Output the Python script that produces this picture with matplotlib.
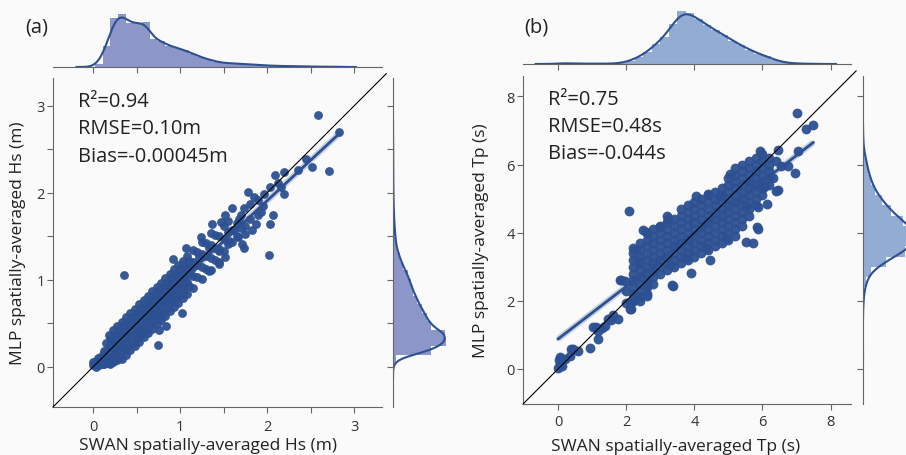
import numpy as np
import matplotlib
matplotlib.use("Agg")
import matplotlib.pyplot as plt

plt.rcParams['font.family'] = ['Open Sans', 'DejaVu Sans']

# ── data ────────────────────────────────────────────────────────────────
# panel (a): spatially-averaged Hs (SWAN, MLP) in m
hs_pairs = [
    (0.00, 0.02), (0.00, 0.06), (0.03, 0.00), (0.04, 0.05), (0.07, 0.02), (0.09, 0.07),
    (0.12, 0.03), (0.06, 0.10), (0.10, 0.13), (0.10, 0.06), (0.13, 0.03), (0.13, 0.18),
    (0.13, 0.10), (0.15, 0.05), (0.15, 0.12), (0.15, 0.27),
    (0.18, 0.05), (0.18, 0.08), (0.18, 0.23), (0.18, 0.37),
    (0.20, 0.03), (0.20, 0.17), (0.20, 0.32),
    (0.23, 0.06), (0.23, 0.13), (0.23, 0.28), (0.23, 0.42),
    (0.25, 0.08), (0.25, 0.22), (0.25, 0.37),
    (0.28, 0.08), (0.28, 0.18), (0.28, 0.33), (0.28, 0.47),
    (0.30, 0.13), (0.30, 0.27), (0.30, 0.42),
    (0.33, 0.09), (0.33, 0.23), (0.33, 0.38), (0.33, 0.52),
    (0.35, 0.18), (0.35, 0.32), (0.35, 0.47),
    (0.38, 0.14), (0.38, 0.28), (0.38, 0.43), (0.38, 0.57),
    (0.40, 0.23), (0.40, 0.37), (0.40, 0.52),
    (0.43, 0.19), (0.43, 0.33), (0.43, 0.48), (0.43, 0.62),
    (0.45, 0.28), (0.45, 0.42), (0.45, 0.57),
    (0.48, 0.24), (0.48, 0.38), (0.48, 0.53), (0.48, 0.67),
    (0.50, 0.33), (0.50, 0.47), (0.50, 0.62),
    (0.53, 0.29), (0.53, 0.43), (0.53, 0.58), (0.53, 0.72),
    (0.55, 0.38), (0.55, 0.52), (0.55, 0.67),
    (0.58, 0.34), (0.58, 0.48), (0.58, 0.63), (0.58, 0.77),
    (0.60, 0.43), (0.60, 0.57), (0.60, 0.72),
    (0.63, 0.39), (0.63, 0.53), (0.63, 0.68), (0.63, 0.82),
    (0.65, 0.48), (0.65, 0.62), (0.65, 0.77),
    (0.68, 0.44), (0.68, 0.58), (0.68, 0.73), (0.68, 0.87),
    (0.70, 0.53), (0.70, 0.67), (0.70, 0.82),
    (0.73, 0.49), (0.73, 0.63), (0.73, 0.78), (0.73, 0.92),
    (0.75, 0.58), (0.75, 0.72), (0.75, 0.87),
    (0.78, 0.54), (0.78, 0.68), (0.78, 0.83), (0.78, 0.97),
    (0.80, 0.63), (0.80, 0.77), (0.80, 0.92),
    (0.83, 0.59), (0.83, 0.73), (0.83, 0.88), (0.83, 1.02),
    (0.85, 0.68), (0.85, 0.82), (0.85, 0.97),
    (0.88, 0.64), (0.88, 0.78), (0.88, 0.93), (0.88, 1.07),
    (0.90, 0.73), (0.90, 0.87), (0.90, 1.02),
    (0.93, 0.69), (0.93, 0.83), (0.93, 0.98), (0.93, 1.12),
    (0.95, 0.78), (0.95, 0.92), (0.95, 1.07),
    (0.98, 0.74), (0.98, 0.88), (0.98, 1.03), (0.98, 1.17),
    (1.00, 0.83), (1.00, 0.97), (1.00, 1.12),
    (1.03, 0.79), (1.03, 0.93), (1.03, 1.08), (1.03, 1.22),
    (1.05, 0.88), (1.05, 1.02), (1.05, 1.17),
    (1.08, 0.84), (1.08, 0.98), (1.08, 1.13), (1.08, 1.27),
    (1.10, 0.93), (1.10, 1.07), (1.10, 1.22),
    (1.15, 0.91), (1.15, 1.05), (1.15, 1.20), (1.15, 1.34),
    (1.20, 1.03), (1.20, 1.17), (1.20, 1.32),
    (1.25, 1.01), (1.25, 1.15), (1.25, 1.30), (1.25, 1.44),
    (1.30, 1.13), (1.30, 1.27), (1.30, 1.42),
    (1.35, 1.11), (1.35, 1.25), (1.35, 1.40), (1.35, 1.54),
    (1.40, 1.23), (1.40, 1.37), (1.40, 1.52),
    (1.45, 1.21), (1.45, 1.35), (1.45, 1.50),
    (1.50, 1.33), (1.50, 1.47), (1.50, 1.62),
    (1.55, 1.41), (1.55, 1.55), (1.55, 1.68),
    (1.60, 1.43), (1.60, 1.57), (1.65, 1.51), (1.65, 1.65),
    (1.70, 1.60), (1.70, 1.74), (1.75, 1.62), (1.80, 1.70),
    # scattered points away from the core
    (0.36, 1.06), (0.75, 0.25), (0.92, 1.24), (1.02, 0.62), (0.76, 0.43), (0.84, 0.47),
    (1.24, 1.49), (1.07, 1.37), (2.59, 2.89), (2.83, 2.70), (2.45, 2.39), (2.52, 2.30),
    (2.71, 2.25), (2.36, 2.26), (2.20, 2.24), (2.09, 2.20), (2.12, 2.11), (2.16, 2.07),
    (2.20, 1.99), (2.03, 2.07), (2.07, 1.75), (2.03, 1.64), (2.02, 1.29), (1.78, 2.01),
    (1.90, 1.92), (1.97, 1.99), (1.60, 1.83), (1.73, 1.83), (1.80, 1.87), (1.52, 1.74),
    (1.37, 1.64), (1.47, 1.66), (1.90, 1.74), (1.87, 1.64), (1.71, 1.41), (1.83, 1.57),
    (1.75, 1.53), (1.62, 1.57), (1.66, 1.49), (1.73, 1.37), (1.56, 1.45), (1.45, 1.33),
    (1.33, 1.37), (1.45, 1.18), (1.52, 1.26), (1.22, 1.26), (1.33, 1.10), (1.14, 1.14),
    (1.95, 1.85), (1.85, 1.95), (1.93, 1.78), (1.68, 1.70),
]
hs_swan = [p[0] for p in hs_pairs]
hs_mlp = [p[1] for p in hs_pairs]
hs_fit = (0.93, 0.05)          # slope, intercept of the regression line
hs_stats = ["R²=0.94", "RMSE=0.10m", "Bias=-0.00045m"]

# marginal histograms of panel (a)
hs_top_edges = [0.02, 0.11, 0.20, 0.29, 0.38, 0.47, 0.56, 0.65, 0.74, 0.83, 0.92,
                1.01, 1.10, 1.19, 1.28, 1.37, 1.46, 1.55, 1.64, 1.73, 1.82, 1.91,
                2.00, 2.09, 2.18, 2.27, 2.36, 2.45, 2.54, 2.63, 2.72, 2.81]
hs_top_counts = [10, 63, 148, 160, 131, 131, 136, 83, 78, 63, 58, 50, 40, 30, 23,
                 16, 12, 11, 10, 8, 7, 5, 4, 3, 3, 2, 2, 1, 1, 1, 1]
hs_right_edges = [0.04, 0.14, 0.235, 0.33, 0.43, 0.53, 0.625, 0.72, 0.82, 0.92,
                  1.015, 1.11, 1.21, 1.31, 1.405, 1.50, 1.60, 1.70, 1.795, 1.89,
                  1.99, 2.08, 2.18, 2.28, 2.37, 2.47, 2.57, 2.66]
hs_right_counts = [8, 113, 158, 155, 112, 100, 85, 72, 60, 52, 43, 30, 20, 12, 8,
                   6, 4, 3, 2, 1.5, 1, 1, 0.8, 0.6, 0.5, 0.5, 0.4]

# panel (b): spatially-averaged Tp (SWAN, MLP) in s
tp_cloud = {
    2.2: [2.0, 2.2, 2.4, 2.6, 2.8, 3.0, 3.2, 3.4],
    2.4: [2.1, 2.3, 2.5, 2.7, 2.9, 3.1, 3.3, 3.5, 3.7],
    2.6: [2.2, 2.4, 2.6, 2.8, 3.0, 3.2, 3.4, 3.6, 3.8, 4.0],
    2.8: [2.5, 2.7, 2.9, 3.1, 3.3, 3.5, 3.7, 3.9, 4.1],
    3.0: [2.8, 3.0, 3.2, 3.4, 3.6, 3.8, 4.0, 4.2],
    3.2: [2.9, 3.1, 3.3, 3.5, 3.7, 3.9, 4.1, 4.3, 4.5],
    3.4: [3.0, 3.2, 3.4, 3.6, 3.8, 4.0, 4.2, 4.4],
    3.6: [3.1, 3.3, 3.5, 3.7, 3.9, 4.1, 4.3, 4.5, 4.7],
    3.8: [3.2, 3.4, 3.6, 3.8, 4.0, 4.2, 4.4, 4.6, 4.8],
    4.0: [3.3, 3.5, 3.7, 3.9, 4.1, 4.3, 4.5, 4.7, 4.9],
    4.2: [3.4, 3.6, 3.8, 4.0, 4.2, 4.4, 4.6, 4.8, 5.0],
    4.4: [3.5, 3.7, 3.9, 4.1, 4.3, 4.5, 4.7, 4.9, 5.1],
    4.6: [3.6, 3.8, 4.0, 4.2, 4.4, 4.6, 4.8, 5.0, 5.2],
    4.8: [3.7, 3.9, 4.1, 4.3, 4.5, 4.7, 4.9, 5.1, 5.3],
    5.0: [3.8, 4.0, 4.2, 4.4, 4.6, 4.8, 5.0, 5.2, 5.4, 5.6],
    5.2: [3.9, 4.1, 4.3, 4.5, 4.7, 4.9, 5.1, 5.3, 5.5, 5.7, 5.9],
    5.4: [4.2, 4.4, 4.6, 4.8, 5.0, 5.2, 5.4, 5.6, 5.8, 6.0],
    5.6: [4.5, 4.7, 4.9, 5.1, 5.3, 5.5, 5.7, 5.9, 6.1],
    5.8: [4.8, 5.0, 5.2, 5.4, 5.6, 5.8, 6.0, 6.2],
    6.0: [5.1, 5.3, 5.5, 5.7, 5.9, 6.1, 6.3],
    6.2: [5.4, 5.6, 5.8, 6.0, 6.2],
}
tp_pairs = [
    (0.00, 0.02), (0.04, 0.26), (0.07, 0.15), (0.10, 0.08), (0.06, 0.36), (0.12, 0.30),
    (0.20, 0.28), (0.34, 0.39), (0.38, 0.60), (0.44, 0.59), (0.59, 0.54), (0.93, 0.61),
    (1.03, 1.22), (1.12, 1.23), (1.18, 0.88), (1.18, 1.10), (1.37, 1.26), (1.47, 1.46),
    (1.61, 1.57), (1.76, 1.46), (1.81, 2.62), (1.96, 2.57), (2.00, 1.95), (2.11, 1.75),
    (2.11, 1.97), (2.21, 1.99), (2.35, 2.13), (2.60, 2.13), (2.60, 2.45), (1.55, 1.45),
    (1.30, 1.20), (1.86, 2.62), (2.15, 1.76), (2.00, 2.30), (2.40, 2.00),
    (2.09, 4.65), (2.21, 3.54), (2.29, 3.50), (2.34, 3.16), (2.50, 4.07), (2.59, 4.03),
    (2.99, 4.18), (3.24, 4.41), (3.37, 2.43), (3.34, 2.47), (3.91, 2.82), (4.45, 3.21),
    (4.04, 5.08), (4.40, 5.13), (4.75, 5.08), (5.04, 5.71), (5.53, 3.74), (5.73, 3.69),
    (5.87, 4.12), (5.83, 4.18), (5.87, 4.74), (5.53, 4.79), (6.12, 4.84), (6.41, 5.23),
    (6.07, 5.37), (5.63, 5.52), (6.03, 5.32), (6.47, 5.25), (6.46, 6.43), (5.92, 6.39),
    (6.76, 5.95), (6.95, 5.76), (7.05, 6.41), (7.00, 7.52), (7.29, 7.03), (7.49, 7.16),
    (6.40, 6.10), (6.55, 5.95), (6.30, 5.60), (2.79, 2.87), (3.28, 3.06), (3.76, 3.25),
    (4.35, 3.54), (4.94, 3.83),
]
tp_swan = [x for x, ys in tp_cloud.items() for _ in ys] + [p[0] for p in tp_pairs]
tp_mlp = [y for ys in tp_cloud.values() for y in ys] + [p[1] for p in tp_pairs]
tp_fit = (0.77, 0.88)
tp_stats = ["R²=0.75", "RMSE=0.48s", "Bias=-0.044s"]

tp_top_edges = [0.0, 0.25, 0.5, 0.75, 1.0, 1.25, 1.5, 1.75, 2.0, 2.25, 2.5, 2.75, 3.0,
                3.25, 3.5, 3.75, 4.0, 4.25, 4.5, 4.75, 5.0, 5.25, 5.5, 5.75, 6.0,
                6.25, 6.5, 6.75, 7.0, 7.25, 7.5]
tp_top_counts = [3, 2, 1, 1, 1, 1, 1, 3, 10, 22, 38, 62, 85, 125, 166, 158, 140, 120,
                 105, 90, 72, 58, 45, 32, 24, 12, 5, 2, 1, 1]
tp_right_edges = [0.0, 0.3, 0.6, 0.9, 1.2, 1.5, 1.8, 2.1, 2.4, 2.7, 3.0, 3.3, 3.6,
                  3.9, 4.2, 4.5, 4.8, 5.1, 5.4, 5.7, 6.0, 6.3, 6.6, 6.9, 7.2, 7.5]
tp_right_counts = [1, 1, 0.5, 0.5, 0.5, 1, 2, 4, 10, 22, 60, 110, 140, 138, 105, 75,
                   52, 33, 22, 14, 9, 3, 1.5, 1, 0.5]

BLUE = "#2c5091"
BG = "#fafafa"
SPINE = "#666666"
TEXT = "#222222"


def kde_from_hist(edges, counts, bw):
    edges = np.asarray(edges, float)
    counts = np.asarray(counts, float)
    centers = 0.5 * (edges[1:] + edges[:-1])
    w = np.diff(edges)
    grid = np.linspace(edges[0] - 3 * bw, edges[-1] + 3 * bw, 400)
    k = np.exp(-0.5 * ((grid[:, None] - centers[None, :]) / bw) ** 2) / (bw * np.sqrt(2 * np.pi))
    return grid, k @ (counts * w)


def style(ax, keep):
    for side in ["top", "right", "left", "bottom"]:
        ax.spines[side].set_visible(side in keep)
        ax.spines[side].set_color(SPINE)
        ax.spines[side].set_linewidth(0.8)
    ax.set_facecolor("none")
    ax.tick_params(direction="out", length=4, width=0.8, color=SPINE,
                   labelsize=10.5, labelcolor="#333333")


def panel(fig, main_rect, top_rect, right_rect, xs, ys, fit, stats, lim, diag_hi,
          ticks, ticklabels, top_hist, right_hist, hist_color, bws, xlabel, ylabel,
          xpad, label_xy, msize):
    ax = fig.add_axes(main_rect)
    ax_t = fig.add_axes(top_rect)
    ax_r = fig.add_axes(right_rect)

    ax.scatter(xs, ys, s=msize, color=BLUE, alpha=0.95, linewidths=0, zorder=2)
    fx = np.array([min(xs), max(xs)])
    ax.plot(fx, fit[0] * fx + fit[1], color=BLUE, lw=4.5, alpha=0.25, zorder=3,
            solid_capstyle="butt")
    ax.plot(fx, fit[0] * fx + fit[1], color=BLUE, lw=2.0, zorder=3)
    ax.plot([lim[0], diag_hi], [lim[0], diag_hi], color="black", lw=0.8,
            clip_on=False, zorder=4)
    ax.set_xlim(lim)
    ax.set_ylim(lim)
    style(ax, ["left", "bottom"])
    ax.tick_params(axis="x", pad=xpad)
    ax.tick_params(axis="y", pad=2)
    ax.set_xticks(ticks)
    ax.set_xticklabels(ticklabels)
    ax.set_yticks(ticks)
    ax.set_yticklabels(ticklabels)
    ax.set_xlabel(xlabel, fontsize=12.5, color=TEXT)
    ax.set_ylabel(ylabel, fontsize=12.5, color=TEXT)
    ax.xaxis.set_label_coords(label_xy[2], label_xy[1])
    ax.xaxis.label.set_va("top")
    ax.yaxis.set_label_coords(label_xy[0], 0.5)
    for i, s in enumerate(stats):
        ax.text(0.075, 0.915 - 0.083 * i, s, transform=ax.transAxes, fontsize=14.5,
                va="baseline", ha="left", color=TEXT)

    # top marginal
    e, c = top_hist
    ax_t.bar(e[:-1], c, width=np.diff(e), align="edge", color=hist_color, linewidth=0)
    g, d = kde_from_hist(e, c, bws[0])
    ax_t.plot(g, d, color=BLUE, lw=1.5)
    ax_t.set_xlim(lim)
    ax_t.set_ylim(0, max(max(c), d.max()) * 1.07)
    style(ax_t, ["bottom"])
    ax_t.set_xticks(ticks)
    ax_t.set_xticklabels([])
    ax_t.set_yticks([])

    # right marginal
    e, c = right_hist
    ax_r.barh(e[:-1], c, height=np.diff(e), align="edge", color=hist_color, linewidth=0)
    g, d = kde_from_hist(e, c, bws[1])
    ax_r.plot(d, g, color=BLUE, lw=1.5)
    ax_r.set_ylim(lim)
    ax_r.set_xlim(0, max(max(c), d.max()) * 1.07)
    style(ax_r, ["left"])
    ax_r.set_yticks(ticks)
    ax_r.set_yticklabels([])
    ax_r.set_xticks([])


fig = plt.figure(figsize=(9.06, 4.56), dpi=100, facecolor=BG)

panel(fig, [0.0585, 0.1053, 0.3631, 0.7215], [0.0585, 0.8509, 0.3631, 0.125],
      [0.4338, 0.1053, 0.0629, 0.7215], hs_swan, hs_mlp, hs_fit, hs_stats,
      (-0.46, 3.32), 3.37, [0, 0.5, 1, 1.5, 2, 2.5, 3], ["0", "", "1", "", "2", "", "3"],
      (hs_top_edges, hs_top_counts), (hs_right_edges, hs_right_counts), "#8c96c8",
      (0.07, 0.06), "SWAN spatially-averaged Hs (m)", "MLP spatially-averaged Hs (m)",
      5, (-0.082, -0.09, 0.47), 40)

panel(fig, [0.5773, 0.1118, 0.3620, 0.7193], [0.5773, 0.8575, 0.3620, 0.125],
      [0.9522, 0.1118, 0.0629, 0.7193], tp_swan, tp_mlp, tp_fit, tp_stats,
      (-1.03, 8.6), 8.75, [0, 2, 4, 6, 8], ["0", "2", "4", "6", "8"],
      (tp_top_edges, tp_top_counts), (tp_right_edges, tp_right_counts), "#93acd4",
      (0.22, 0.2), "SWAN spatially-averaged Tp (s)", "MLP spatially-averaged Tp (s)",
      3, (-0.104, -0.105, 0.465), 50)

fig.text(25 / 906, 1 - 33 / 456, "(a)", fontsize=14.5, va="baseline", color=TEXT)
fig.text(524 / 906, 1 - 33 / 456, "(b)", fontsize=14.5, va="baseline", color=TEXT)

fig.savefig("out.png", dpi=100, facecolor=BG)
